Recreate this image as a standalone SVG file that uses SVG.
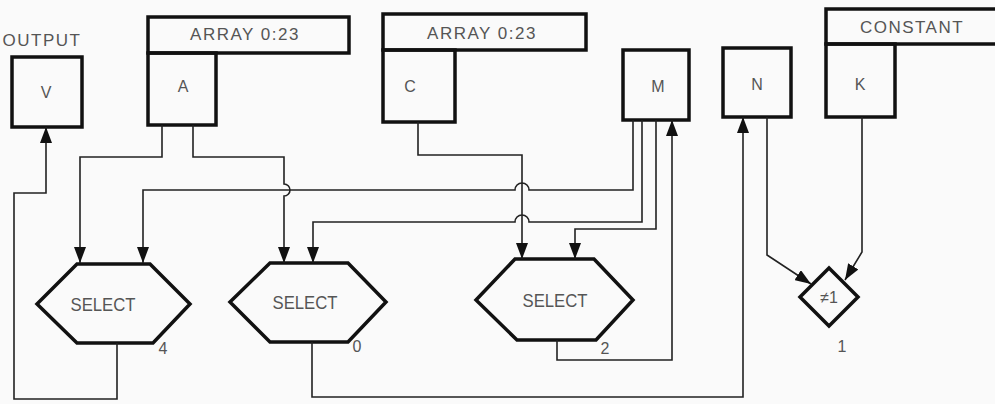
<svg xmlns="http://www.w3.org/2000/svg" width="995" height="404" viewBox="0 0 995 404">
<style>
.box{fill:none;stroke:#111;stroke-width:3.5;stroke-linejoin:miter}
.wire{fill:none;stroke:#222;stroke-width:1.6}
.t{font-family:"Liberation Sans",Arial,sans-serif;fill:#555;text-anchor:middle}
.hdr{font-size:17px;letter-spacing:1.5px}
.lbl{font-size:16px}
.sel{font-size:19px}
.num{font-size:16px}
</style>
<defs>
<marker id="ah" markerUnits="userSpaceOnUse" markerWidth="16" markerHeight="12" refX="16" refY="6" orient="auto" viewBox="0 0 16 12">
<path d="M0,0 L16,6 L0,12 Z" fill="#111"/>
</marker>
</defs>
<rect width="995" height="404" fill="#fafafa"/>

<g id="output-v">
<text class="t hdr" x="42" y="46">OUTPUT</text>
<rect class="box" x="12" y="57" width="70" height="70"/>
<text class="t lbl" x="46" y="98">V</text>
</g>

<g id="array-a">
<rect class="box" x="148" y="17" width="201" height="36"/>
<rect class="box" x="148" y="53" width="68" height="72"/>
<text class="t hdr" x="245" y="40">ARRAY 0:23</text>
<text class="t lbl" x="183" y="92">A</text>
</g>

<g id="array-c">
<rect class="box" x="383" y="14" width="203" height="36"/>
<rect class="box" x="383" y="50" width="72" height="72"/>
<text class="t hdr" x="482" y="39">ARRAY 0:23</text>
<text class="t lbl" x="410" y="92">C</text>
</g>

<g id="m">
<rect class="box" x="623" y="50" width="66" height="70"/>
<text class="t lbl" x="658" y="92">M</text>
</g>

<g id="n">
<rect class="box" x="723" y="48" width="68" height="69"/>
<text class="t lbl" x="757" y="90">N</text>
</g>

<g id="constant-k">
<rect class="box" x="826" y="9" width="180" height="35"/>
<rect class="box" x="826" y="44" width="69" height="73"/>
<text class="t hdr" x="912" y="33">CONSTANT</text>
<text class="t lbl" x="860" y="90">K</text>
</g>

<g id="select-4">
<polygon class="box" points="37,304 77,264 150,264 190,304 153,343 77,343"/>
<text class="t sel" x="103" y="311" textLength="65" lengthAdjust="spacingAndGlyphs">SELECT</text>
<text class="t num" x="163" y="354">4</text>
</g>

<g id="select-0">
<polygon class="box" points="230,302 270,263 348,263 386,302 348,342 270,342"/>
<text class="t sel" x="305" y="309" textLength="65" lengthAdjust="spacingAndGlyphs">SELECT</text>
<text class="t num" x="357" y="352">0</text>
</g>

<g id="select-2">
<polygon class="box" points="476,300 515,259 594,259 633,300 596,340 517,340"/>
<text class="t sel" x="555" y="307" textLength="65" lengthAdjust="spacingAndGlyphs">SELECT</text>
<text class="t num" x="605" y="354">2</text>
</g>

<g id="not-equal">
<polygon class="box" points="829,268 858,297 829,326 800,297"/>
<text class="t lbl" x="829" y="303">≠1</text>
<text class="t num" x="842" y="352">1</text>
</g>

<g id="connectors">
<path class="wire" d="M162,125 V157 H80 V263" marker-end="url(#ah)"/>
<path class="wire" d="M193,125 V157 H284 V184 A6,6 0 0 1 284,196 V263" marker-end="url(#ah)"/>
<path class="wire" d="M633,120 V190 H529 A7,7 0 0 0 515,190 H143 V263" marker-end="url(#ah)"/>
<path class="wire" d="M642,120 V222 H529 A7,7 0 0 0 515,222 H313 V263" marker-end="url(#ah)"/>
<path class="wire" d="M656,120 V229 H575 V259" marker-end="url(#ah)"/>
<path class="wire" d="M418,122 V155 H522 V259" marker-end="url(#ah)"/>
<path class="wire" d="M557,340 V360 H672 V120" marker-end="url(#ah)"/>
<path class="wire" d="M312,342 V397 H743 V117" marker-end="url(#ah)"/>
<path class="wire" d="M117,343 V399 H14 V193 H46 V127" marker-end="url(#ah)"/>
<path class="wire" d="M767,117 V255 L811,284" marker-end="url(#ah)"/>
<path class="wire" d="M862,117 V252 L845,280" marker-end="url(#ah)"/>
</g>
</svg>
